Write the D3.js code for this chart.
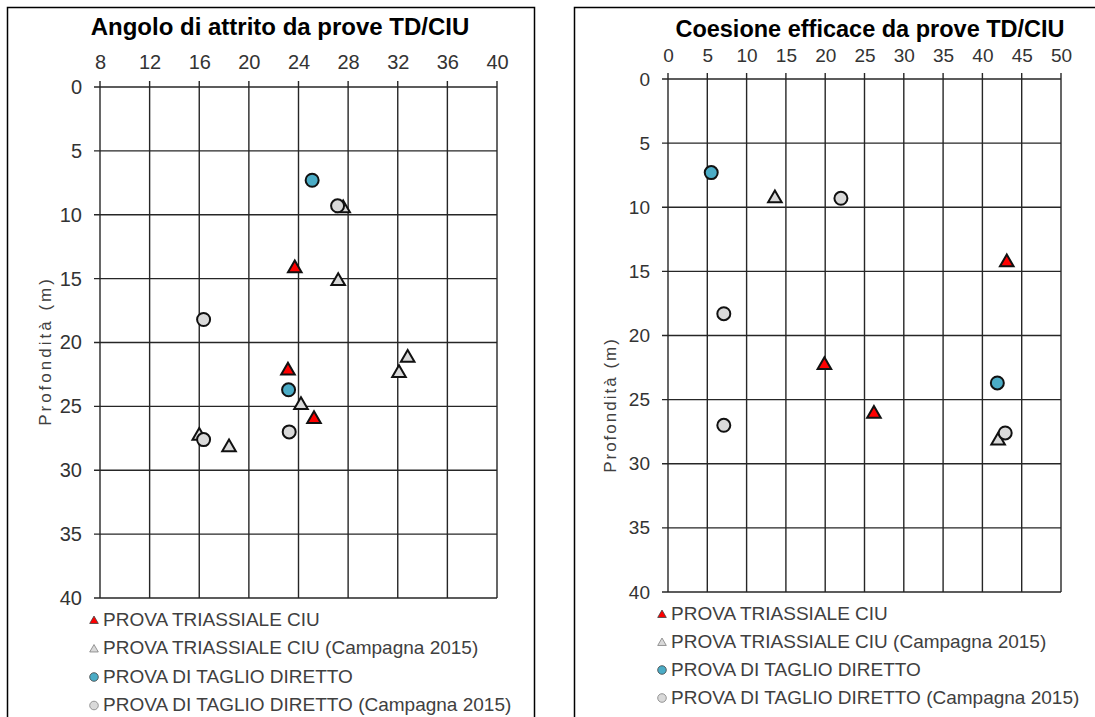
<!DOCTYPE html>
<html>
<head>
<meta charset="utf-8">
<script src="https://cdn.jsdelivr.net/npm/d3@7"></script>
<style>
  body { margin: 0; background: #fff; }
  text { font-family: "Liberation Sans", Arial, sans-serif; }
</style>
</head>
<body>
<div id="chart"></div>
<script>
// Angolo di attrito (deg) vs profondita (m)
const phiCiu = [[23.7, 14.2], [23.15, 22.2], [25.25, 26.0]];
const phiCiu2015 = [[27.6, 9.5], [27.2, 15.2], [32.8, 21.2], [32.1, 22.4], [24.2, 24.9], [16.0, 27.3], [18.4, 28.2]];
const phiTd = [[25.1, 7.3], [23.2, 23.7]];
const phiTd2015 = [[27.15, 9.3], [16.35, 18.2], [23.25, 27.0], [16.35, 27.6]];

// Coesione efficace (kPa) vs profondita (m)
const cCiu = [[43.1, 14.3], [19.9, 22.3], [26.2, 26.1]];
const cCiu2015 = [[13.6, 9.3], [42.0, 28.2]];
const cTd = [[5.5, 7.3], [41.9, 23.7]];
const cTd2015 = [[22.0, 9.3], [7.1, 18.3], [7.1, 27.0], [42.9, 27.6]];

const phiTicks = [8, 12, 16, 20, 24, 28, 32, 36, 40];
const cTicks = [0, 5, 10, 15, 20, 25, 30, 35, 40, 45, 50];
const depthTicks = [0, 5, 10, 15, 20, 25, 30, 35, 40];

const legendLabels = [
    'PROVA TRIASSIALE CIU',
    'PROVA TRIASSIALE CIU (Campagna 2015)',
    'PROVA DI TAGLIO DIRETTO',
    'PROVA DI TAGLIO DIRETTO (Campagna 2015)'
];

const seriesStyle = [
    { shape: 'tri', fill: '#ff0000', legendStroke: '#404040' },
    { shape: 'tri', fill: '#d9d9d9', legendStroke: '#7f7f7f' },
    { shape: 'circle', fill: '#4bacc6', legendStroke: '#404040' },
    { shape: 'circle', fill: '#d9d9d9', legendStroke: '#7f7f7f' }
];

const svg = d3.select('#chart').append('svg')
    .attr('width', 1095)
    .attr('height', 717);

// frames
svg.append('rect').attr('x', 7.5).attr('y', 7.5).attr('width', 527).attr('height', 720)
    .attr('fill', 'none').attr('stroke', '#000').attr('stroke-width', 1.5);
svg.append('rect').attr('x', 574.5).attr('y', 7.5).attr('width', 540).attr('height', 720)
    .attr('fill', 'none').attr('stroke', '#000').attr('stroke-width', 1.5);

drawPanel({
    title: 'Angolo di attrito da prove TD/CIU',
    titleX: 280, titleY: 35, titleSize: 24,
    xDomain: [8, 40], xRange: [100, 497], xTicks: phiTicks,
    yRange: [87, 598],
    tickSize: 20, xLabelGap: 18, yLabelGap: 18,
    yLabelX: 51, yLabelY: 351, yLabelSize: 17, yLabelSpacing: 3,
    series: [phiCiu, phiCiu2015, phiTd, phiTd2015],
    legendX: 94, legendY: 619, legendStep: 28.5, legendSize: 19
});

drawPanel({
    title: 'Coesione efficace da prove TD/CIU',
    titleX: 870, titleY: 37, titleSize: 23.5,
    xDomain: [0, 50], xRange: [668, 1061], xTicks: cTicks,
    yRange: [79, 592],
    tickSize: 19, xLabelGap: 17, yLabelGap: 18,
    yLabelX: 616, yLabelY: 405, yLabelSize: 17, yLabelSpacing: 2,
    series: [cCiu, cCiu2015, cTd, cTd2015],
    legendX: 662, legendY: 613, legendStep: 28, legendSize: 19
});

function drawPanel(p) {
    const x = d3.scaleLinear().domain(p.xDomain).range(p.xRange);
    const y = d3.scaleLinear().domain([0, 40]).range(p.yRange);
    const g = svg.append('g');

    g.append('text')
        .attr('x', p.titleX).attr('y', p.titleY)
        .attr('text-anchor', 'middle')
        .style('font-size', p.titleSize + 'px')
        .style('font-weight', 'bold')
        .text(p.title);

    // grid
    const grid = g.append('g').attr('stroke', '#262626').attr('stroke-width', 1.4);
    grid.selectAll('line.v').data(p.xTicks).join('line')
        .attr('x1', d => x(d)).attr('x2', d => x(d))
        .attr('y1', p.yRange[0] - 6).attr('y2', p.yRange[1]);
    grid.selectAll('line.h').data(depthTicks).join('line')
        .attr('y1', d => y(d)).attr('y2', d => y(d))
        .attr('x1', p.xRange[0] - 6).attr('x2', p.xRange[1]);

    // axes labels
    const xAxis = d3.axisTop(x).tickValues(p.xTicks).tickSize(0).tickPadding(0);
    const xa = g.append('g').attr('transform', `translate(0,${p.yRange[0] - p.xLabelGap})`).call(xAxis);
    const yAxis = d3.axisLeft(y).tickValues(depthTicks).tickSize(0).tickPadding(0);
    const ya = g.append('g').attr('transform', `translate(${p.xRange[0] - p.yLabelGap},0)`).call(yAxis);
    [xa, ya].forEach(a => {
        a.select('.domain').remove();
        a.selectAll('text')
            .style('font-size', p.tickSize + 'px')
            .style('font-family', '"Liberation Sans", Arial, sans-serif')
            .attr('fill', '#333');
    });

    g.append('text')
        .attr('transform', `translate(${p.yLabelX},${p.yLabelY}) rotate(-90)`)
        .attr('text-anchor', 'middle')
        .style('font-size', p.yLabelSize + 'px')
        .style('letter-spacing', p.yLabelSpacing + 'px')
        .attr('fill', '#404040')
        .text('Profondità (m)');

    // points
    p.series.forEach((data, i) => {
        const st = seriesStyle[i];
        const sel = g.append('g');
        if (st.shape === 'tri') {
            sel.selectAll('path').data(data).join('path')
                .attr('d', d3.symbol(d3.symbolTriangle, 80))
                .attr('transform', d => `translate(${x(d[0])},${y(d[1])})`)
                .attr('fill', st.fill).attr('stroke', '#111').attr('stroke-width', 2);
        } else {
            sel.selectAll('circle').data(data).join('circle')
                .attr('cx', d => x(d[0])).attr('cy', d => y(d[1])).attr('r', 6.5)
                .attr('fill', st.fill).attr('stroke', '#111').attr('stroke-width', 2);
        }
    });

    // legend
    const lg = g.append('g');
    legendLabels.forEach((lab, i) => {
        const st = seriesStyle[i];
        const ly = p.legendY + i * p.legendStep;
        if (st.shape === 'tri') {
            lg.append('path')
                .attr('d', d3.symbol(d3.symbolTriangle, 32))
                .attr('transform', `translate(${p.legendX},${ly + 2})`)
                .attr('fill', st.fill).attr('stroke', st.legendStroke).attr('stroke-width', 0.8);
        } else {
            lg.append('circle')
                .attr('cx', p.legendX).attr('cy', ly + 1).attr('r', 4.3)
                .attr('fill', st.fill).attr('stroke', st.legendStroke).attr('stroke-width', 0.8);
        }
        lg.append('text')
            .attr('x', p.legendX + 9).attr('y', ly)
            .attr('dy', '0.36em')
            .style('font-size', p.legendSize + 'px')
            .attr('fill', '#404040')
            .text(lab);
    });
}
</script>
</body>
</html>
